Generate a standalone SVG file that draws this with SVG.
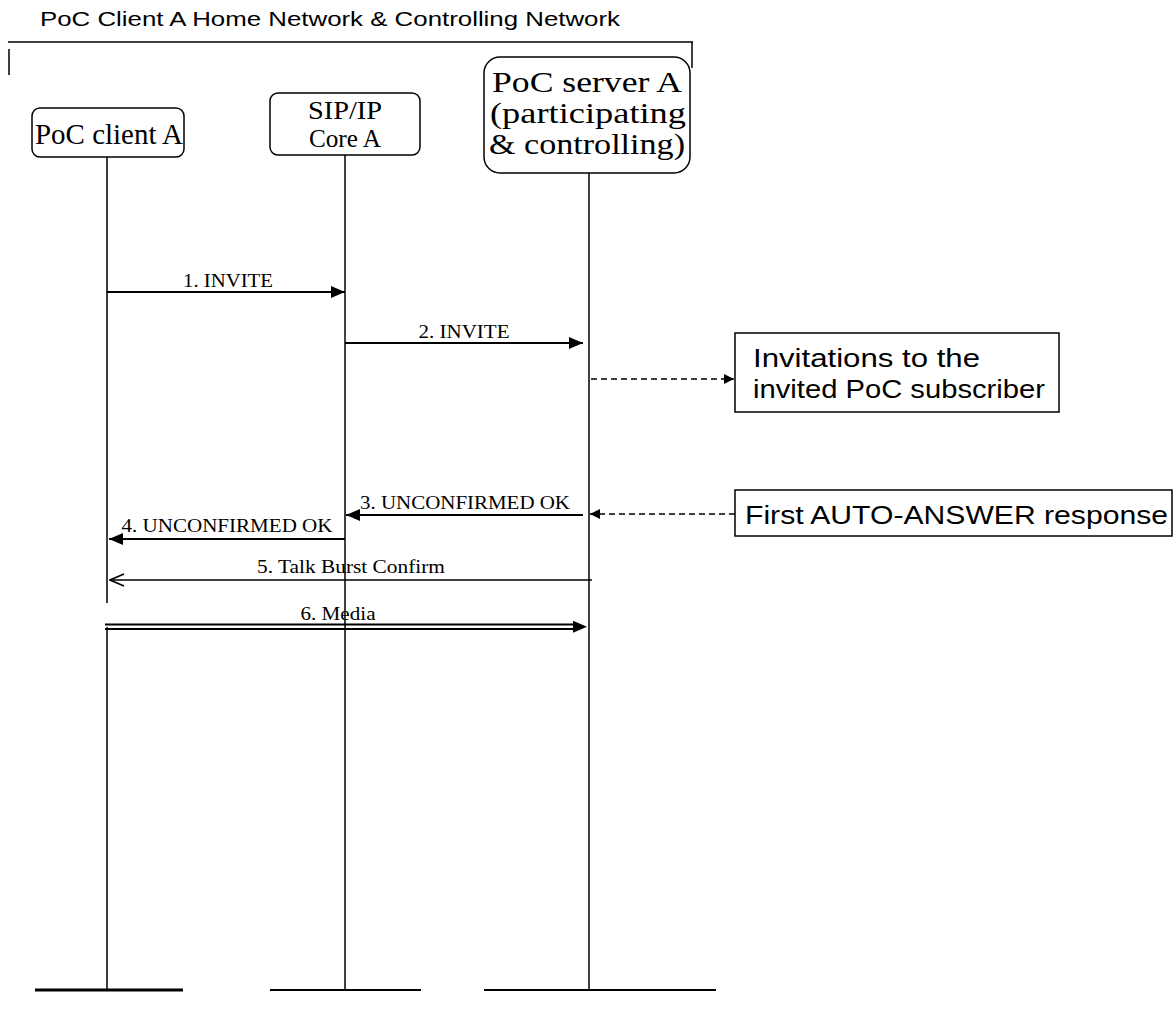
<svg xmlns="http://www.w3.org/2000/svg" width="1175" height="1014" viewBox="0 0 1175 1014">
<style>
.sans{font-family:"Liberation Sans",Arial,sans-serif;fill:#000}
.serif{font-family:"Liberation Serif","Times New Roman",serif;fill:#000}
.box{fill:#fff;stroke:#000;stroke-width:1.5}
.life{stroke:#000;stroke-width:1.5;fill:none}
.msg{stroke:#000;stroke-width:2;fill:none}
.thin{stroke:#000;stroke-width:1.5;fill:none}
.dash{stroke:#000;stroke-width:1.5;fill:none;stroke-dasharray:6 4}
.lbl{font-size:19px;text-anchor:middle}
</style>
<defs>
<marker id="fa" markerUnits="userSpaceOnUse" viewBox="0 0 14 12" refX="14" refY="6" markerWidth="14" markerHeight="12" orient="auto"><path d="M0,0 L14,6 L0,12 z" fill="#000"/></marker>
<marker id="sa" markerUnits="userSpaceOnUse" viewBox="0 0 10 10" refX="10" refY="5" markerWidth="10" markerHeight="10" orient="auto"><path d="M0,0 L10,5 L0,10 z" fill="#000"/></marker>
<marker id="oa" markerUnits="userSpaceOnUse" viewBox="0 0 16 14" refX="15" refY="7" markerWidth="16" markerHeight="14" orient="auto"><path d="M1,1 L15,7 L1,13" fill="none" stroke="#000" stroke-width="1.5"/></marker>
</defs>

<g id="domain">
<text class="sans" x="40" y="26" font-size="20" textLength="580" lengthAdjust="spacingAndGlyphs">PoC Client A Home Network &amp; Controlling Network</text>
<path class="thin" d="M8,42 H693 M9,49 V75 M692,42 V68"/>
</g>

<g id="poc-client-a">
<rect class="box" x="32" y="108" width="152" height="49" rx="8"/>
<text class="serif" x="109" y="144" font-size="29" text-anchor="middle" textLength="148" lengthAdjust="spacingAndGlyphs">PoC client A</text>
<path class="life" d="M107,157 V603 M107,627 V990"/>
<path d="M35,990 H183" stroke="#000" stroke-width="3"/>
</g>

<g id="sip-ip-core-a">
<rect class="box" x="270" y="93" width="150" height="62" rx="8"/>
<text class="serif" x="345" y="119" font-size="25" text-anchor="middle" textLength="74" lengthAdjust="spacingAndGlyphs">SIP/IP</text>
<text class="serif" x="345" y="147" font-size="25" text-anchor="middle" textLength="72" lengthAdjust="spacingAndGlyphs">Core A</text>
<path class="life" d="M345,155 V990"/>
<path d="M270,990 H421" stroke="#000" stroke-width="2"/>
</g>

<g id="poc-server-a">
<rect class="box" x="484" y="57" width="206" height="116" rx="16"/>
<text class="serif" x="587" y="92" font-size="30" text-anchor="middle" textLength="190" lengthAdjust="spacingAndGlyphs">PoC server A</text>
<text class="serif" x="588" y="123" font-size="30" text-anchor="middle" textLength="196" lengthAdjust="spacingAndGlyphs">(participating</text>
<text class="serif" x="587" y="154" font-size="30" text-anchor="middle" textLength="196" lengthAdjust="spacingAndGlyphs">&amp; controlling)</text>
<path class="life" d="M589,173 V990"/>
<path d="M484,990 H716" stroke="#000" stroke-width="2"/>
</g>

<g id="note-invitations">
<rect class="box" x="735" y="333" width="324" height="79"/>
<text class="sans" x="753" y="367" font-size="25" textLength="227" lengthAdjust="spacingAndGlyphs">Invitations to the</text>
<text class="sans" x="753" y="398" font-size="25" textLength="292" lengthAdjust="spacingAndGlyphs">invited PoC subscriber</text>
</g>

<g id="note-auto-answer">
<rect class="box" x="735" y="490" width="437" height="46"/>
<text class="sans" x="745" y="524" font-size="25" textLength="423" lengthAdjust="spacingAndGlyphs">First AUTO-ANSWER response</text>
</g>

<g id="connectors">
<path class="msg" d="M107,292 H345" marker-end="url(#fa)"/>
<text class="serif lbl" x="228" y="287" textLength="90" lengthAdjust="spacingAndGlyphs">1. INVITE</text>
<path class="msg" d="M345,343 H583" marker-end="url(#fa)"/>
<text class="serif lbl" x="464" y="338" textLength="91" lengthAdjust="spacingAndGlyphs">2. INVITE</text>
<path class="dash" d="M591,379 H734" marker-end="url(#sa)"/>
<path class="msg" d="M583,515 H346" marker-end="url(#fa)"/>
<text class="serif lbl" x="465" y="509" textLength="210" lengthAdjust="spacingAndGlyphs">3. UNCONFIRMED OK</text>
<path class="dash" d="M735,514 H590" marker-end="url(#sa)"/>
<path class="msg" d="M345,539 H109" marker-end="url(#fa)"/>
<text class="serif lbl" x="227" y="532" textLength="211" lengthAdjust="spacingAndGlyphs">4. UNCONFIRMED OK</text>
<path class="thin" d="M592,580 H110" marker-end="url(#oa)"/>
<text class="serif lbl" x="351" y="573" textLength="188" lengthAdjust="spacingAndGlyphs">5. Talk Burst Confirm</text>
<path class="msg" d="M105,624.5 H578 M105,629 H578"/>
<path d="M105,626.75 H587" stroke="none" fill="none" marker-end="url(#fa)"/>
<text class="serif lbl" x="338" y="620" textLength="75" lengthAdjust="spacingAndGlyphs">6. Media</text>
</g>
</svg>
